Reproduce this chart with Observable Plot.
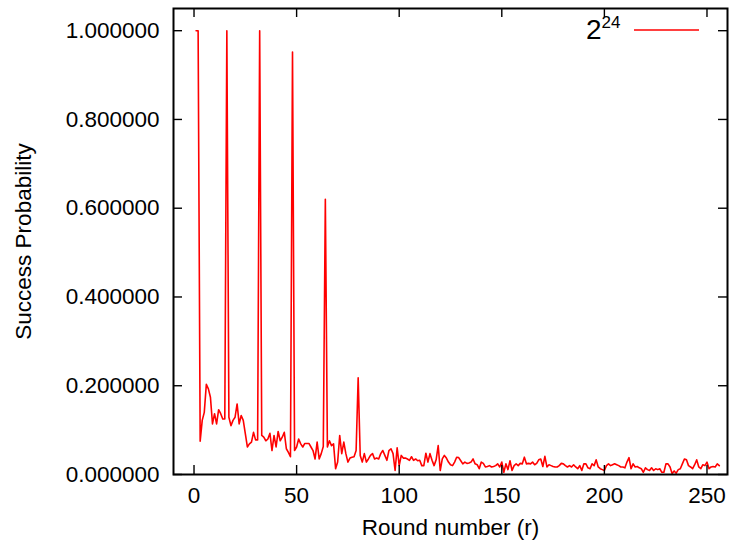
<!DOCTYPE html>
<html>
<head>
<meta charset="utf-8">
<script src="https://cdn.jsdelivr.net/npm/d3@7"></script>
<script src="https://cdn.jsdelivr.net/npm/@observablehq/plot@0.6"></script>
<style>
  html, body { margin: 0; padding: 0; background: #fff; }
  #chart { width: 732px; height: 552px; }
</style>
</head>
<body>
<div id="chart"></div>
<script>
// Success probability per round (r = 1 .. 256)
const probabilities = [
  1.000, 1.000, 0.075, 0.122, 0.140, 0.203, 0.193, 0.174, 0.114, 0.137,
  0.114, 0.146, 0.137, 0.125, 0.125, 1.000, 0.129, 0.110, 0.122, 0.129,
  0.159, 0.114, 0.133, 0.122, 0.092, 0.062, 0.069, 0.073, 0.095, 0.078,
  0.078, 1.000, 0.088, 0.084, 0.076, 0.080, 0.093, 0.054, 0.088, 0.062,
  0.097, 0.076, 0.084, 0.095, 0.058, 0.050, 0.040, 0.952, 0.054, 0.062,
  0.080, 0.069, 0.062, 0.070, 0.070, 0.070, 0.062, 0.054, 0.035, 0.073,
  0.035, 0.047, 0.063, 0.620, 0.062, 0.076, 0.065, 0.069, 0.013, 0.028,
  0.088, 0.047, 0.073, 0.047, 0.028, 0.037, 0.039, 0.040, 0.054, 0.218,
  0.043, 0.028, 0.047, 0.028, 0.035, 0.043, 0.047, 0.035, 0.037, 0.035,
  0.047, 0.054, 0.043, 0.032, 0.054, 0.058, 0.047, 0.009, 0.060, 0.020,
  0.043, 0.037, 0.037, 0.035, 0.032, 0.040, 0.032, 0.035, 0.031, 0.032,
  0.020, 0.020, 0.048, 0.028, 0.047, 0.032, 0.020, 0.033, 0.065, 0.009,
  0.035, 0.043, 0.037, 0.028, 0.022, 0.020, 0.028, 0.039, 0.038, 0.031,
  0.024, 0.028, 0.025, 0.026, 0.028, 0.035, 0.024, 0.022, 0.013, 0.028,
  0.025, 0.017, 0.018, 0.020, 0.017, 0.018, 0.020, 0.024, 0.017, 0.028,
  0.005, 0.024, 0.011, 0.031, 0.009, 0.020, 0.024, 0.020, 0.025, 0.024,
  0.039, 0.024, 0.025, 0.024, 0.028, 0.022, 0.025, 0.033, 0.035, 0.018,
  0.041, 0.017, 0.022, 0.020, 0.018, 0.017, 0.017, 0.020, 0.025, 0.024,
  0.020, 0.017, 0.020, 0.017, 0.022, 0.017, 0.013, 0.020, 0.009, 0.024,
  0.024, 0.015, 0.013, 0.024, 0.020, 0.033, 0.017, 0.013, 0.011, 0.009,
  0.020, 0.024, 0.020, 0.022, 0.024, 0.022, 0.020, 0.017, 0.017, 0.015,
  0.028, 0.038, 0.013, 0.024, 0.017, 0.018, 0.015, 0.013, 0.005, 0.015,
  0.011, 0.009, 0.015, 0.009, 0.013, 0.011, 0.013, 0.005, 0.005, 0.024,
  0.024, 0.017, 0.002, 0.008, 0.003, 0.011, 0.013, 0.024, 0.035, 0.033,
  0.020, 0.017, 0.013, 0.022, 0.033, 0.017, 0.013, 0.022, 0.020, 0.028,
  0.013, 0.017, 0.018, 0.017, 0.024, 0.020
];
const rounds = d3.range(1, probabilities.length + 1);
const xTicks = [0, 50, 100, 150, 200, 250];
const yTicks = [0, 0.2, 0.4, 0.6, 0.8, 1.0];
const seriesLabel = { base: "2", exp: "24" };
const xLabel = "Round number (r)";
const yLabel = "Success Probability";

const data = rounds.map((r, i) => ({ r, p: probabilities[i] }));

const W = 732, H = 552;
const mL = 173, mR = 5, mT = 8, mB = 78;
const innerW = W - mL - mR, innerH = H - mT - mB;
const tickLen = 9;
const font = "'Liberation Sans', Arial, Helvetica, sans-serif";

const svg = Plot.plot({
  width: W,
  height: H,
  marginLeft: mL,
  marginRight: mR,
  marginTop: mT,
  marginBottom: mB,
  style: { fontFamily: font, fontSize: "22.5px", color: "#000", background: "#fff" },
  x: { domain: [-10, 260] },
  y: { domain: [0, 1.05] },
  marks: [
    Plot.line(data, { x: "r", y: "p", stroke: "#ff0000", strokeWidth: 1.6 }),
    // inward ticks on all four sides (gnuplot mirror style)
    Plot.tickY(yTicks, { y: d => d, insetRight: innerW - tickLen, stroke: "#000", strokeWidth: 1.4 }),
    Plot.tickY(yTicks, { y: d => d, insetLeft: innerW - tickLen, stroke: "#000", strokeWidth: 1.4 }),
    Plot.tickX(xTicks, { x: d => d, insetTop: innerH - tickLen, stroke: "#000", strokeWidth: 1.4 }),
    Plot.tickX(xTicks, { x: d => d, insetBottom: innerH - tickLen, stroke: "#000", strokeWidth: 1.4 }),
    Plot.frame({ stroke: "#000", strokeWidth: 2 }),
    Plot.axisY(yTicks, { tickSize: 0, tickPadding: 14, tickFormat: d3.format(".6f"), label: null, fontSize: 22.5 }),
    Plot.axisX(xTicks, { tickSize: 0, tickPadding: 13, tickFormat: d3.format("d"), label: null, fontSize: 22.5 }),
    Plot.text([xLabel], { frameAnchor: "bottom", dy: 53, lineAnchor: "middle", textAnchor: "middle", fontSize: 22.5 }),
    Plot.text([yLabel], { frameAnchor: "left", dx: -150, rotate: -90, lineAnchor: "middle", textAnchor: "middle", fontSize: 22.5 })
  ]
});

// Legend (key) in the top-right corner, gnuplot style
const g = d3.select(svg).append("g").attr("class", "key").attr("font-family", font);
const t = g.append("text").attr("x", 620.5).attr("y", 39.3).attr("text-anchor", "end").attr("fill", "#000");
t.append("tspan").attr("font-size", 28).text(seriesLabel.base);
t.append("tspan").attr("font-size", 17).attr("dy", -11).text(seriesLabel.exp);
g.append("line").attr("x1", 634).attr("x2", 699).attr("y1", 30).attr("y2", 30)
  .attr("stroke", "#ff0000").attr("stroke-width", 1.6);

document.getElementById("chart").appendChild(svg);
</script>
</body>
</html>
